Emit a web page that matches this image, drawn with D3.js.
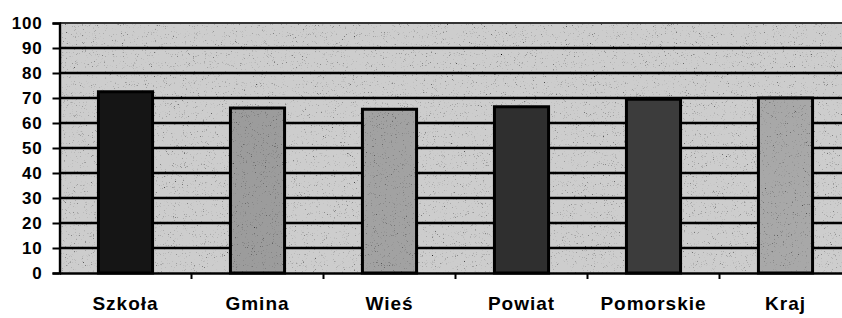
<!DOCTYPE html>
<html>
<head>
<meta charset="utf-8">
<script src="https://cdn.jsdelivr.net/npm/d3@7"></script>
<style>
  body { margin: 0; background: #fff; }
  text { font-family: "Liberation Sans", Arial, sans-serif; font-weight: bold; fill: #000; }
</style>
</head>
<body>
<svg id="chart"></svg>
<script>
// ---------- data
let categories = ['Szkoła', 'Gmina', 'Wieś', 'Powiat', 'Pomorskie', 'Kraj']
let values = [72.5, 66, 65.5, 66.5, 69.5, 70]
let barColors = ['#151515', '#9c9c9c', '#a2a2a2', '#2f2f2f', '#3c3c3c', '#a8a8a8']
let yTicks = [0, 10, 20, 30, 40, 50, 60, 70, 80, 90, 100]

// ---------- sizes
let W = 842, H = 318
let mLeft = 59.5, mTop = 23, mBottom = 273
let band = 132
let mRight = mLeft + band * categories.length

let svg = d3.select('#chart')
	.attr('width', W)
	.attr('height', H)

let defs = svg.append('defs')

// grainy texture like the scanned original
let f = defs.append('filter').attr('id', 'grain')
	.attr('x', 0).attr('y', 0).attr('width', '100%').attr('height', '100%')
f.append('feTurbulence')
	.attr('type', 'fractalNoise')
	.attr('baseFrequency', 1.1)
	.attr('numOctaves', 2)
	.attr('seed', 3)
	.attr('result', 'noise')
f.append('feColorMatrix')
	.attr('in', 'noise')
	.attr('type', 'matrix')
	.attr('values', '0 0 0 0 0  0 0 0 0 0  0 0 0 0 0  -2.2 -2.2 0 0 1.75')
	.attr('result', 'dots')
f.append('feComposite').attr('in', 'dots').attr('in2', 'SourceGraphic').attr('operator', 'atop')

let f2 = defs.append('filter').attr('id', 'grainLight')
	.attr('x', 0).attr('y', 0).attr('width', '100%').attr('height', '100%')
f2.append('feTurbulence')
	.attr('type', 'fractalNoise')
	.attr('baseFrequency', 1.1)
	.attr('numOctaves', 2)
	.attr('seed', 7)
	.attr('result', 'noise')
f2.append('feColorMatrix')
	.attr('in', 'noise')
	.attr('type', 'matrix')
	.attr('values', '1 1 1 0 0  1 1 1 0 0  1 1 1 0 0  2.2 2.2 0 0 -1.55')
	.attr('result', 'dots')
f2.append('feComposite').attr('in', 'dots').attr('in2', 'SourceGraphic').attr('operator', 'atop')
f2.append('feMerge').call(m => {
	m.append('feMergeNode').attr('in', 'SourceGraphic')
})

let x = d3.scaleBand()
	.domain(categories)
	.range([mLeft, mRight])
	.paddingInner(0.59)
	.paddingOuter(0.295)

let y = d3.scaleLinear()
	.domain([0, 100])
	.range([mBottom, mTop])

// plot background
svg.append('rect')
	.attr('x', mLeft).attr('y', mTop)
	.attr('width', mRight - mLeft).attr('height', mBottom - mTop)
	.attr('fill', '#cdcdcd')
	.attr('filter', 'url(#grain)')

// grid lines
svg.append('g').selectAll('line')
	.data(yTicks.filter(d => d > 0))
	.enter()
	.append('line')
	.attr('x1', mLeft).attr('x2', mRight)
	.attr('y1', d => y(d)).attr('y2', d => y(d))
	.attr('stroke', d => d == 100 ? '#333' : '#000')
	.attr('stroke-width', d => d == 100 ? 2 : 2.6)

// bars
let bars = svg.append('g')
bars.selectAll('rect.bar')
	.data(categories)
	.enter()
	.append('rect')
	.attr('class', 'bar')
	.attr('x', d => x(d))
	.attr('y', (d, i) => y(values[i]))
	.attr('width', x.bandwidth())
	.attr('height', (d, i) => mBottom - y(values[i]))
	.attr('fill', (d, i) => barColors[i])
	.attr('filter', (d, i) => i == 0 || i == 3 || i == 4 ? 'url(#grainLight)' : 'url(#grain)')
bars.selectAll('rect.edge')
	.data(categories)
	.enter()
	.append('rect')
	.attr('class', 'edge')
	.attr('x', d => x(d))
	.attr('y', (d, i) => y(values[i]))
	.attr('width', x.bandwidth())
	.attr('height', (d, i) => mBottom - y(values[i]))
	.attr('fill', 'none')
	.attr('stroke', '#000')
	.attr('stroke-width', 3)

// y axis
let yAxis = svg.append('g')
	.attr('transform', `translate(${mLeft},0)`)
	.call(d3.axisLeft(y).tickValues(yTicks).tickSize(7).tickPadding(10))
yAxis.select('.domain').attr('stroke-width', 2.4)
yAxis.selectAll('.tick line').attr('stroke-width', 2)
yAxis.selectAll('text')
	.attr('font-size', '17px')
	.attr('letter-spacing', '0.8px')
	.attr('font-family', '"Liberation Sans", Arial, sans-serif')
	.attr('font-weight', 'bold')

// x axis
let xAxis = svg.append('g')
	.attr('transform', `translate(0,${mBottom})`)
	.call(d3.axisBottom(x).tickSize(0).tickPadding(24))
xAxis.select('.domain').attr('stroke-width', 2.4)
xAxis.selectAll('text')
	.attr('font-size', '19px')
	.attr('letter-spacing', '1px')
	.attr('font-family', '"Liberation Sans", Arial, sans-serif')
	.attr('font-weight', 'bold')

// tick marks between categories
let gap = (x.step() - x.bandwidth()) / 2
svg.append('g').selectAll('line')
	.data(categories.slice(1))
	.enter()
	.append('line')
	.attr('x1', d => x(d) - gap)
	.attr('x2', d => x(d) - gap)
	.attr('y1', mBottom).attr('y2', mBottom + 6)
	.attr('stroke', '#000')
	.attr('stroke-width', 2)
</script>
</body>
</html>
